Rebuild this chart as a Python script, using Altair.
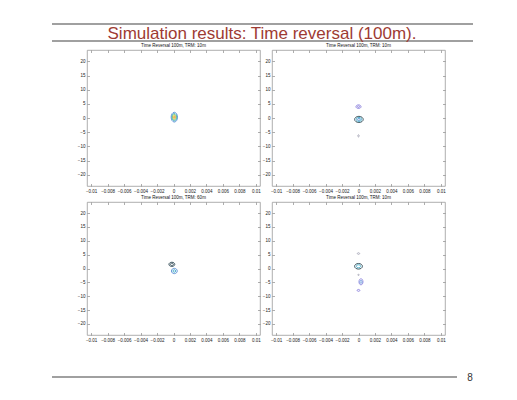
import altair as alt
import pandas as pd

# ---------------- data ----------------
slide_title = "Simulation results: Time reversal (100m)."
page_number = "8"
panel_names = ["TL", "TR", "BL", "BR"]
panel_titles = ["Time Reversal 100m, TRM: 10m", "Time Reversal 100m, TRM: 10m",
                "Time Reversal 100m, TRM: 60m", "Time Reversal 100m, TRM: 10m"]
x_ticks = [-0.01, -0.008, -0.006, -0.004, -0.002, 0, 0.002, 0.004, 0.006, 0.008, 0.01]
y_ticks = [-20, -15, -10, -5, 0, 5, 10, 15, 20]
x_domain = [-0.0105, 0.0105]
y_domain = [-24, 24]

# contour rings (centre, half-height in y units, contour level, outline form)
ring_panel = ["TL", "TL", "TL", "TL", "TL",
              "TR", "TR", "TR", "TR", "TR", "TR",
              "BL", "BL", "BL", "BL",
              "BR", "BR", "BR", "BR", "BR", "BR", "BR"]
ring_x = [0.0001, 0.0001, 0.0001, 0.0001, 0.0001,
          0.0, 0.0, 0.00005, 0.00005, 0.00005, 0.0,
          -0.0002, -0.0002, 0.0001, 0.0001,
          0.0, 0.0, 0.0, 0.0, 0.0003, 0.0003, 0.0]
ring_y = [0.3, 0.3, 0.3, 0.3, 0.3,
          4.0, 4.0, -0.5, -0.5, -0.5, -6.3,
          1.5, 1.5, -0.9, -0.9,
          5.4, 0.8, 0.8, -2.3, -4.8, -4.8, -7.9]
ring_r = [1.75, 1.35, 1.0, 0.65, 0.3,
          0.65, 0.3, 1.1, 0.7, 0.35, 0.4,
          0.75, 0.4, 0.95, 0.45,
          0.3, 1.0, 0.55, 0.2, 1.1, 0.55, 0.35]
ring_level = [0.4, 0.5, 0.6, 0.7, 0.8,
              0.1, 0.1, 0.3, 0.5, 0.4, 0.2,
              0.3, 0.3, 0.4, 0.5,
              0.2, 0.3, 0.5, 0.2, 0.1, 0.4, 0.1]
ring_form = ["tall", "tall", "tall", "tall", "tall",
             "wide", "wide", "wide", "wide", "wide", "tall",
             "wide", "wide", "round", "round",
             "wide", "wide", "wide", "wide", "tall", "tall", "wide"]

level_domain = [0.1, 0.2, 0.3, 0.4, 0.5, 0.6, 0.7, 0.8]
level_colors = ["#8c82dc", "#a8a8b8", "#2e4752", "#5b8fd6", "#3aa6c4",
                "#70c070", "#dccc3c", "#ef8c2c"]

rings = pd.DataFrame({"panel": ring_panel, "x": ring_x, "y": ring_y,
                      "r": ring_r, "level": ring_level, "form": ring_form})

# ---------------- styling helpers ----------------
FONT = "Liberation Sans"
K = 0.5523


def ellipse_path(a, b):
    return (f"M {a} 0 C {a} {K*b:.4f} {K*a:.4f} {b} 0 {b} "
            f"C {-K*a:.4f} {b} {-a} {K*b:.4f} {-a} 0 "
            f"C {-a} {-K*b:.4f} {-K*a:.4f} {-b} 0 {-b} "
            f"C {K*a:.4f} {-b} {a} {-K*b:.4f} {a} 0 Z")


shape_domain = ["tall", "wide", "round"]
shape_range = [ellipse_path(0.65, 1), ellipse_path(1.4, 1), ellipse_path(1.1, 1)]
PPU = 2.8  # pixels per y unit
W = 173
GAP = 12
RULE_COLOR = "#808080"


def panel(idx, h, extra=()):
    sub = rings[rings.panel == panel_names[idx]]
    xs = alt.Scale(domain=x_domain, nice=False, zero=False)
    ys = alt.Scale(domain=y_domain, nice=False, zero=False)
    common = dict(labelFontSize=4.5, labelFont=FONT, labelColor="#222",
                  tickColor="#777", tickSize=2.5, tickWidth=0.6, offset=-2.5,
                  domain=False, grid=False, title=None, labelPadding=2,
                  labelFlush=False, labelOverlap=False, labelBound=False)
    main = alt.Chart(sub).mark_point(filled=False, strokeWidth=0.9, opacity=1).encode(
        x=alt.X("x:Q", scale=xs,
                axis=alt.Axis(orient="bottom", values=x_ticks, format=".3~f", **common)),
        y=alt.Y("y:Q", scale=ys,
                axis=alt.Axis(orient="left", values=y_ticks, **common)),
        color=alt.Color("level:O", scale=alt.Scale(domain=level_domain, range=level_colors),
                        legend=None),
        size=alt.Size("r:Q", scale=alt.Scale(type="pow", exponent=2, domain=[0, 2],
                                             range=[0, 4 * (2 * PPU) ** 2]), legend=None),
        shape=alt.Shape("form:N", scale=alt.Scale(domain=shape_domain, range=shape_range),
                        legend=None),
    )
    frame = alt.Chart(sub).mark_point(opacity=0).encode(
        x=alt.X("x:Q", scale=xs,
                axis=alt.Axis(orient="top", values=x_ticks, labels=False, **common)),
        y=alt.Y("y:Q", scale=ys,
                axis=alt.Axis(orient="right", values=y_ticks, labels=False, **common)),
    )
    tdf = pd.DataFrame({"t": [panel_titles[idx]]})
    ttl = alt.Chart(tdf).mark_text(font=FONT, fontSize=4.5, color="#111",
                                   baseline="bottom", align="center").encode(
        x=alt.value(W / 2), y=alt.value(-2), text="t:N")
    layers = [main, frame, ttl] + list(extra)
    return alt.layer(*layers).resolve_axis(x="independent", y="independent").properties(
        width=W, height=h,
        view=alt.ViewBackground(stroke="#9a9a9a", strokeWidth=0.8),
    )


# slide header (drawn from the first panel, above it)
head_df = pd.DataFrame({"t": [slide_title]})
rule_a = alt.Chart(head_df).mark_rule(color=RULE_COLOR, strokeWidth=1.5).encode(
    x=alt.value(-35), x2=alt.value(386), y=alt.value(-26))
rule_b = alt.Chart(head_df).mark_rule(color=RULE_COLOR, strokeWidth=1.5).encode(
    x=alt.value(-35), x2=alt.value(386), y=alt.value(-9))
head_text = alt.Chart(head_df).mark_text(font=FONT, fontSize=17, color="#9e3b33",
                                         baseline="middle", align="center").encode(
    x=alt.value(175), y=alt.value(-16), text="t:N")

# slide footer (drawn from the third panel, below it)
foot_df = pd.DataFrame({"t": [page_number]})
rule_c = alt.Chart(foot_df).mark_rule(color=RULE_COLOR, strokeWidth=1.5).encode(
    x=alt.value(-35), x2=alt.value(370), y=alt.value(175))
foot_text = alt.Chart(foot_df).mark_text(font=FONT, fontSize=10, color="#333",
                                         baseline="middle", align="center").encode(
    x=alt.value(383), y=alt.value(176), text="t:N")

chart = alt.concat(
    panel(0, 136, [rule_a, rule_b, head_text]),
    panel(1, 136),
    panel(2, 133, [rule_c, foot_text]),
    panel(3, 133),
    columns=2, spacing={"row": 16, "column": GAP}, bounds="flush",
).properties(
    padding={"left": 42, "top": 14, "right": 5, "bottom": 5}
).configure_view(stroke="#9a9a9a")

chart.save("out.html", embed_options={"renderer": "svg", "actions": False})
